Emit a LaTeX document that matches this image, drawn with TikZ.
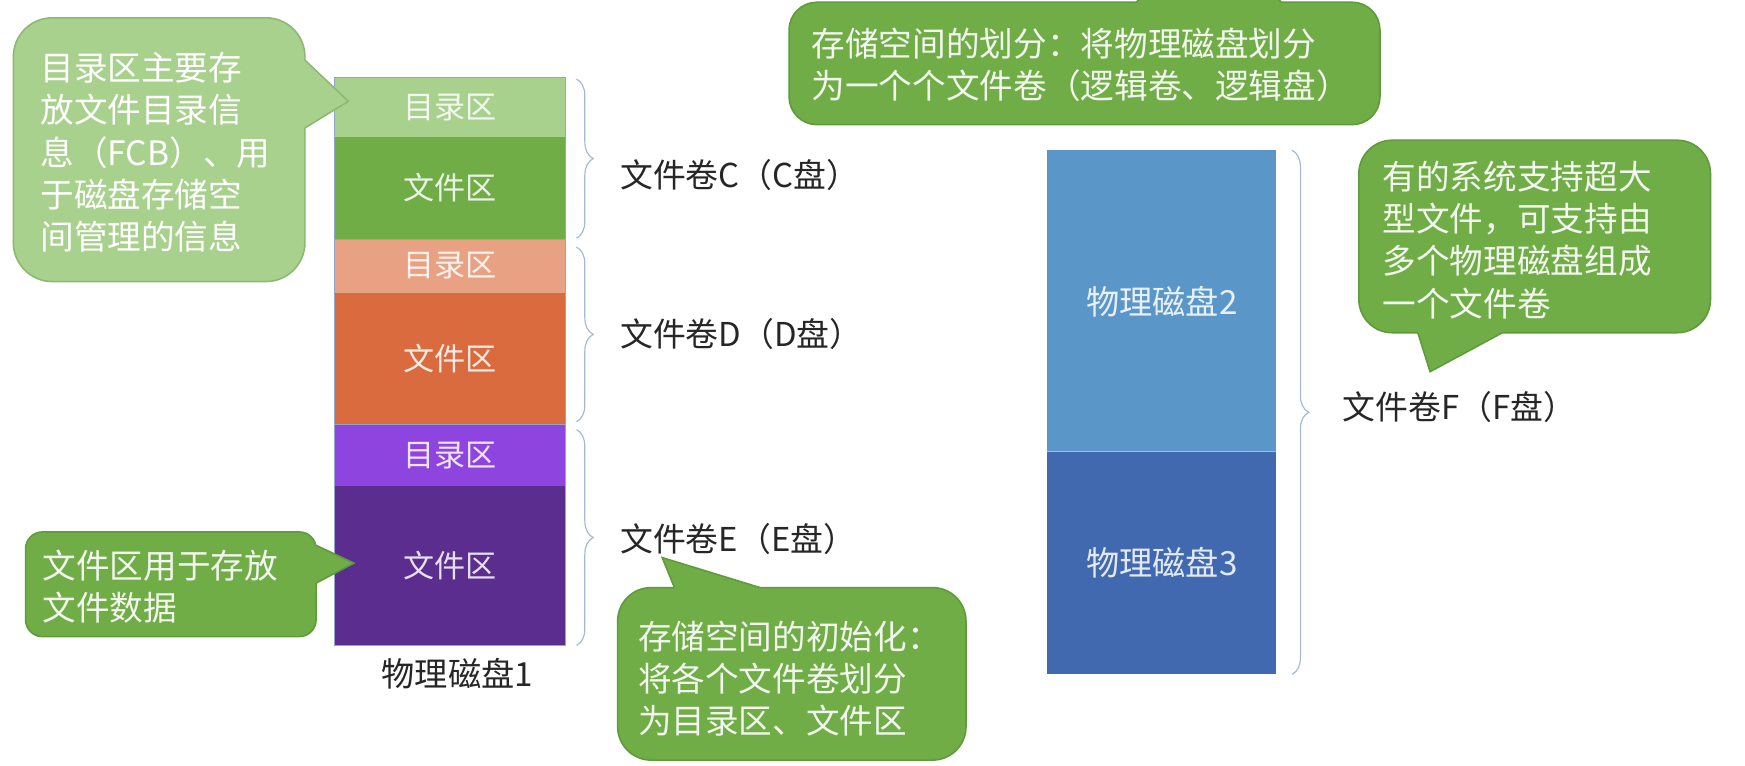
\documentclass[tikz,border=0pt]{standalone}
\usepackage{fontspec}
\newfontfamily\cjk{Noto Sans CJK SC}
\usetikzlibrary{decorations.pathreplacing}
\definecolor{dirC}{HTML}{A9D18E}
\definecolor{fileC}{HTML}{70AD47}
\definecolor{dirD}{HTML}{E8A283}
\definecolor{fileD}{HTML}{D96B3F}
\definecolor{dirE}{HTML}{8E45E0}
\definecolor{fileE}{HTML}{5A2D8E}
\definecolor{diskB}{HTML}{5B96C9}
\definecolor{diskC}{HTML}{4169AF}
\definecolor{bracecol}{HTML}{A3B9D6}
\definecolor{framecol}{HTML}{8FA7CC}
\definecolor{tipfill}{HTML}{70AD47}
\definecolor{tipline}{HTML}{5F9A3B}
\definecolor{tiplight}{HTML}{A9D18E}
\definecolor{tiplightline}{HTML}{8DB872}
\definecolor{tiptext}{HTML}{F2F6EE}
\definecolor{labtext}{HTML}{262626}

\begin{document}
\begin{tikzpicture}[x=0.02cm,y=-0.02cm,
  font=\cjk\fontsize{15.9}{19}\selectfont,
  volbrace/.style={decorate,decoration={brace,amplitude=0.3cm},draw=bracecol,line width=0.6pt},
  note/.style={fill=tipfill,draw=tipline,line width=0.8pt},
  notetext/.style={inner sep=0pt,align=left,anchor=west,text=tiptext,
    font=\cjk\fontsize{17.2}{21.6}\selectfont},
  voltext/.style={inner sep=0pt,anchor=west,text=labtext,font=\cjk\fontsize{16.8}{19}\selectfont},
  disktext/.style={font=\cjk\fontsize{17}{19}\selectfont}]
  \useasboundingbox (0,0) rectangle (1568,688);
  \clip (0,0) rectangle (1568,688);

  % Physical disk 1: three volumes, each with a directory and a file area.
  \foreach \ya/\yb/\col/\lab/\nm in {
    70/123/dirC/目录区/cdir,
    123/215/fileC/文件区/cfile,
    215/263/dirD/目录区/ddir,
    263/381/fileD/文件区/dfile,
    381/437/dirE/目录区/edir,
    437/580/fileE/文件区/efile
  } {
    \fill[\col] (301,\ya) rectangle (508,\yb);
    \node[text=\col!15!white] (\nm) at (404.5,{(\ya+\yb)/2}) {\lab};
  }
  \foreach \ya/\yb in {70/215,215/381,381/580}
    \draw[framecol,line width=0.5pt] (301,\ya) rectangle (508,\yb);
  \node[disktext,text=labtext] (disk1) at (411,605) {物理磁盘1};

  \foreach \ya/\yb/\ty/\drv/\nm in {
    71/214/157/C/volC,
    222/379/300/D/volD,
    386/580/484/E/volE
  } {
    \draw[volbrace] (518,\ya) -- (518,\yb);
    \node[voltext] (\nm) at (557,\ty) {文件卷{\drv}（{\drv}盘）};
  }

  % Physical disks 2 and 3 form one volume.
  \fill[diskB] (941,135) rectangle (1147,406);
  \fill[diskC] (941,406) rectangle (1147,606);
  \draw[diskB!60!white,line width=0.5pt] (941,406) -- (1147,406);
  \node[disktext,text=diskB!15!white] (disk2) at (1044,271) {物理磁盘2};
  \node[disktext,text=diskC!15!white] (disk3) at (1044,506) {物理磁盘3};
  \draw[volbrace] (1161,135) -- (1161,606);
  \node[voltext] (volF) at (1206,366) {文件卷F（F盘）};

  % Callout: directory area.
  \filldraw[note,fill=tiplight,draw=tiplightline,rounded corners=0.7cm] (12,16) rectangle (274,253);
  \fill[tiplight] (266,54) -- (274,54) -- (313,91) -- (274,115) -- (266,115) -- cycle;
  \draw[tiplightline,line width=0.8pt] (274,54) -- (313,91) -- (274,115);
  \node[notetext,text=white] (dirnote) at (36,137)
    {目录区主要存\\放文件目录信\\息（FCB）、用\\于磁盘存储空\\间管理的信息};

  % Callout: partitioning (pointer leaves the top edge).
  \filldraw[note,rounded corners=0.5cm] (709,2) rectangle (1240,112);
  \fill[tipfill] (1021,8) -- (1021,2) -- (1100,-80) -- (1151,2) -- (1151,8) -- cycle;
  \draw[tipline,line width=0.8pt] (1021,2) -- (1100,-80) -- (1151,2);
  \node[notetext] (splitnote) at (729,58)
    {存储空间的划分：将物理磁盘划分\\为一个个文件卷（逻辑卷、逻辑盘）};

  % Callout: volume over several disks.
  \filldraw[note,rounded corners=0.6cm] (1221,126) rectangle (1537,299);
  \fill[tipfill] (1274,293) -- (1274,299) -- (1285,334) -- (1350,299) -- (1350,293) -- cycle;
  \draw[tipline,line width=0.8pt] (1274,299) -- (1285,334) -- (1350,299);
  \node[notetext] (bignote) at (1242,215.5)
    {有的系统支持超大\\型文件，可支持由\\多个物理磁盘组成\\一个文件卷};

  % Callout: file area.
  \filldraw[note,rounded corners=0.3cm] (23,478) rectangle (284,572);
  \fill[tipfill] (276,490) -- (284,490) -- (318,506) -- (284,524) -- (276,524) -- cycle;
  \draw[tipline,line width=0.8pt] (284,490) -- (318,506) -- (284,524);
  \node[notetext] (filenote) at (38,527) {文件区用于存放\\文件数据};

  % Callout: initialisation.
  \filldraw[note,rounded corners=0.6cm] (555,528) rectangle (868,683);
  \fill[tipfill] (606,534) -- (606,528) -- (595,501) -- (683,528) -- (683,534) -- cycle;
  \draw[tipline,line width=0.8pt] (606,528) -- (595,501) -- (683,528);
  \node[notetext] (initnote) at (573,610)
    {存储空间的初始化：\\将各个文件卷划分\\为目录区、文件区};
\end{tikzpicture}
\end{document}
